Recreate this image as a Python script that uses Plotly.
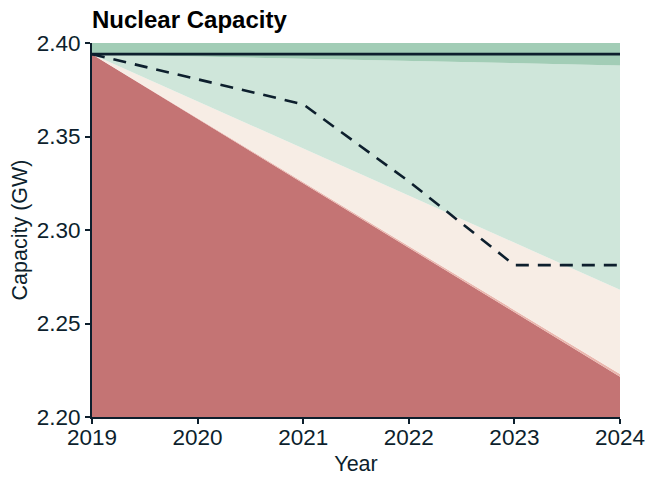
import plotly.graph_objects as go

years = [2019, 2020, 2021, 2022, 2023, 2024]
red_top = [2.3940, 2.3595, 2.3250, 2.2905, 2.2560, 2.2215]
pink_top = [2.3940, 2.3598, 2.3256, 2.2914, 2.2572, 2.2230]
beige_top = [2.3940, 2.3688, 2.3436, 2.3184, 2.2932, 2.2680]
lgreen_top = [2.3940, 2.3928, 2.3916, 2.3904, 2.3892, 2.3880]
dgreen_top = [2.4000, 2.4000, 2.4000, 2.4000, 2.4000, 2.4000]
reference = [2.3941, 2.3941, 2.3941, 2.3941, 2.3941, 2.3941]
projection = [2.3940, 2.3806, 2.3672, 2.3260, 2.2812, 2.2812]

ink = "#0d1f2d"
fig = go.Figure()
layers = [
    (red_top, "#c47474", "tozeroy"),
    (pink_top, "#eab7ae", "tonexty"),
    (beige_top, "#f7ede5", "tonexty"),
    (lgreen_top, "#cfe6da", "tonexty"),
    (dgreen_top, "#a2cdb6", "tonexty"),
]
for ys, col, fill in layers:
    fig.add_trace(go.Scatter(x=years, y=ys, mode="lines", line=dict(width=0, color=col),
                             fill=fill, fillcolor=col, showlegend=False, hoverinfo="skip"))
fig.add_trace(go.Scatter(x=years, y=reference, mode="lines",
                         line=dict(color=ink, width=2.8), showlegend=False))
fig.add_trace(go.Scatter(x=years, y=projection, mode="lines",
                         line=dict(color=ink, width=2.6, dash="13px,9px"), showlegend=False))

font = "Liberation Sans, Arial, sans-serif"
fig.update_layout(
    width=646, height=477,
    margin=dict(l=92, r=26, t=43, b=60),
    paper_bgcolor="white", plot_bgcolor="white",
    font=dict(family=font, color=ink, size=21),
    title=dict(text="<b>Nuclear Capacity</b>", x=92/646, xanchor="left", xref="container",
               y=1-20/477, yanchor="middle", font=dict(size=24, color="black", family=font)),
    xaxis=dict(range=[2019, 2024], tickvals=years, ticktext=[str(y) for y in years],
               showgrid=False, zeroline=False, showline=True, linecolor=ink, linewidth=2,
               ticks="outside", ticklen=5, tickwidth=2, tickcolor=ink, automargin=False,
               ticklabelstandoff=-6,
               title=dict(text="Year", font=dict(size=21.5), standoff=7),
               tickfont=dict(size=22.5)),
    yaxis=dict(range=[2.20, 2.40], tickvals=[2.20, 2.25, 2.30, 2.35, 2.40],
               ticktext=["2.20", "2.25", "2.30", "2.35", "2.40"],
               showgrid=False, zeroline=False, showline=True, linecolor=ink, linewidth=2,
               ticks="outside", ticklen=5, tickwidth=2, tickcolor=ink, automargin=False,
               title=dict(text="Capacity (GW)", font=dict(size=21.5), standoff=3),
               tickfont=dict(size=22.5)),
)
fig.write_html("out.html", config={"displayModeBar": False},
               post_script="document.body.style.margin='0';")
